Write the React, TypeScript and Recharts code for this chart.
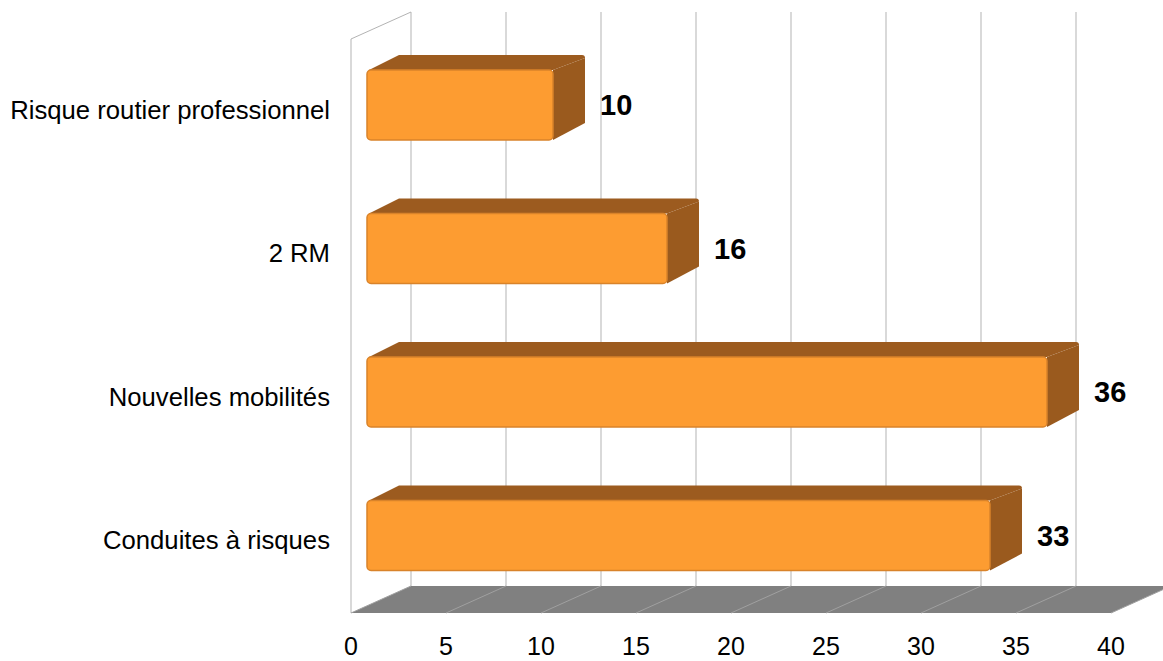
import React from 'react';
import { BarChart, Bar, XAxis, YAxis, CartesianGrid, LabelList } from 'recharts';

const categories = ['Risque routier professionnel', '2 RM', 'Nouvelles mobilités', 'Conduites à risques'];
const values = [10, 16, 36, 33];
const xTicks = [0, 5, 10, 15, 20, 25, 30, 35, 40];

const data = categories.map((name, i) => ({ name, value: values[i] }));

const FONT = "'Liberation Sans', Arial, sans-serif";
const DEPTH_X = 60;
const DEPTH_Y = -27;
const BAR_DX = 32;
const BAR_DY = -15;

const BarShape = (props: any) => {
  const { x, y, width, height } = props;
  const fx = x + 16;
  const fw = width - 4;
  const fy = y - 6;
  const fh = height;
  const top = `M${fx + 2},${fy} L${fx + BAR_DX},${fy + BAR_DY} L${fx + fw + BAR_DX - 3},${fy + BAR_DY} Q${fx + fw + BAR_DX},${fy + BAR_DY} ${fx + fw + BAR_DX},${fy + BAR_DY + 3} L${fx + fw},${fy} Z`;
  const side = `M${fx + fw},${fy} L${fx + fw + BAR_DX},${fy + BAR_DY + 3} L${fx + fw + BAR_DX},${fy + fh + BAR_DY - 2} L${fx + fw},${fy + fh} Z`;
  return (
    <g>
      <path d={top} fill="#9c5b1f" />
      <path d={side} fill="#9a5a1e" />
      <rect x={fx} y={fy} width={fw} height={fh} rx={4} ry={4} fill="#fd9c31" stroke="#d9832a" strokeWidth={1.5} />
    </g>
  );
};

const gridLine = (p: any) => {
  const { x1, y1, y2, index } = p;
  const px = p.x;
  const pw = p.width;
  return (
    <g key={p.key ?? `g${index}`}>
      {index === 0 && px !== undefined && pw !== undefined ? (
        <g>
          <polygon
            points={`${px},${y2} ${px + DEPTH_X},${y2 + DEPTH_Y} ${px + pw + DEPTH_X},${y2 + DEPTH_Y} ${px + pw},${y2}`}
            fill="#808080"
          />
          <line x1={px} y1={y1} x2={px} y2={y2} stroke="#b3b3b3" strokeWidth={1} />
          <line x1={px} y1={y1} x2={px + DEPTH_X} y2={y1 + DEPTH_Y} stroke="#b3b3b3" strokeWidth={1} />
        </g>
      ) : null}
      <line x1={x1 + DEPTH_X} y1={y1 + DEPTH_Y} x2={x1 + DEPTH_X} y2={y2 + DEPTH_Y} stroke="#b3b3b3" strokeWidth={1} />
      <line x1={x1} y1={y2} x2={x1 + DEPTH_X} y2={y2 + DEPTH_Y} stroke="#a0a0a0" strokeWidth={1} />
    </g>
  );
};

const XTick = (props: any) => {
  const { x, y, payload } = props;
  return (
    <text x={x} y={y + 42} textAnchor="middle" fontSize={25} fontFamily={FONT} fill="#000">
      {payload.value}
    </text>
  );
};

const YTick = (props: any) => {
  const { x, y, payload } = props;
  return (
    <text x={x} y={y + 8} textAnchor="end" fontSize={25.7} fontFamily={FONT} fill="#000">
      {payload.value}
    </text>
  );
};

const ValueLabel = (props: any) => {
  const { x, y, width, height, value } = props;
  return (
    <text x={x + width + 59} y={y + height / 2 - 6 + 10} textAnchor="start" fontSize={29} fontWeight="bold" fontFamily={FONT} fill="#000">
      {value}
    </text>
  );
};

export default function App() {
  return (
    <div style={{ position: 'absolute', left: 0, top: 0, width: 1163, height: 661, background: '#fff' }}>
      <BarChart
        width={1163}
        height={661}
        data={data}
        layout="vertical"
        margin={{ top: 39, right: 52, bottom: 0, left: 0 }}
        barCategoryGap={0}
      >
        <CartesianGrid horizontal={false} vertical={gridLine} stroke="#b3b3b3" />
        <XAxis
          type="number"
          domain={[0, 40]}
          ticks={xTicks}
          interval={0}
          axisLine={false}
          tickLine={false}
          tickSize={0}
          tickMargin={0}
          height={48}
          tick={<XTick />}
        />
        <YAxis
          type="category"
          dataKey="name"
          width={351}
          axisLine={false}
          tickLine={false}
          tickSize={0}
          tickMargin={21}
          tick={<YTick />}
        />
        <Bar dataKey="value" barSize={70} isAnimationActive={false} shape={<BarShape />}>
          <LabelList dataKey="value" content={<ValueLabel />} />
        </Bar>
      </BarChart>
    </div>
  );
}
